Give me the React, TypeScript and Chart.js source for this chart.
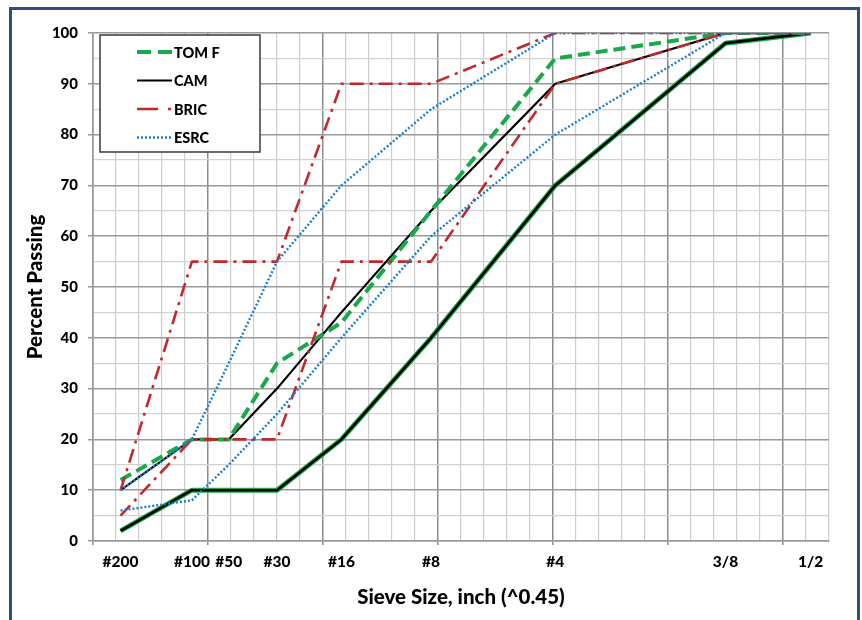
import React, { useEffect, useRef } from 'react';
import { Chart, registerables } from 'chart.js';

Chart.register(...registerables);

// ---- data ----
const sieveLabels = ['#200', '#100', '#50', '#30', '#16', '#8', '#4', '3/8', '1/2'];
const sieveX = [0.12, 0.43, 0.59, 0.8, 1.08, 1.47, 2.01, 2.75, 3.12]; // sieve size ^0.45
const tomF = [12, 20, 20, 35, 43, 65, 95, 100, 100];
const cam = [10, 20, 20, 30, 45, 65, 90, 100, 100];
const lowerLimit = [2, 10, 10, 10, 20, 40, 70, 98, 100];
const bricUpper = [10, 55, 55, 55, 90, 90, 100, 100, 100];
const bricLower = [5, 20, 20, 20, 55, 55, 90, 100, 100];
const esrcUpper = [10, 20, 35, 55, 70, 85, 100, 100, 100];
const esrcLower = [6, 8, 15, 25, 40, 60, 80, 100, 100];

const X_MIN = 0;
const X_MAX = 3.2;
const X_GRID_STEP = 0.1;
const Y_MIN = 0;
const Y_MAX = 100;

const GREEN = '#19a84a';
const BLACK = '#000000';
const RED = '#c0282d';
const BLUE = '#1a7fd0';
const FONT = "Lato, 'Open Sans', sans-serif";
const WEIGHT = '900';

const pts = (ys: number[]) => ys.map((y, i) => ({ x: sieveX[i], y }));

const legendItems = [
  { label: 'TOM F', color: GREEN, dash: [14, 7], width: 4 },
  { label: 'CAM', color: BLACK, dash: [], width: 2 },
  { label: 'BRIC', color: RED, dash: [21, 10, 3, 10], width: 2.5 },
  { label: 'ESRC', color: BLUE, dash: [2, 2], width: 2.5 },
];

const boxLegend = {
  id: 'boxLegend',
  afterDatasetsDraw(chart: any) {
    const { ctx, chartArea } = chart;
    const x0 = chartArea.left + 7;
    const y0 = chartArea.top + 2;
    const w = 160;
    const h = 117;
    ctx.save();
    ctx.fillStyle = '#ffffff';
    ctx.fillRect(x0, y0, w, h);
    ctx.strokeStyle = '#3a3a3a';
    ctx.lineWidth = 1.5;
    ctx.strokeRect(x0, y0, w, h);
    legendItems.forEach((it, i) => {
      const y = y0 + 17 + i * 28.5;
      ctx.beginPath();
      ctx.setLineDash(it.dash);
      ctx.strokeStyle = it.color;
      ctx.lineWidth = it.width;
      ctx.moveTo(x0 + 37, y);
      ctx.lineTo(x0 + 72, y);
      ctx.stroke();
      ctx.setLineDash([]);
      ctx.fillStyle = '#000';
      ctx.font = `${WEIGHT} 14.5px ${FONT}`;
      ctx.textBaseline = 'middle';
      ctx.textAlign = 'left';
      ctx.fillText(it.label, x0 + 74, y + 1);
    });
    ctx.restore();
  },
};

export default function App() {
  const ref = useRef<HTMLCanvasElement | null>(null);

  useEffect(() => {
    document.body.style.margin = '0';
    if (!ref.current) return;
    const line = (label: string, data: number[], color: string, width: number, dash: number[], order: number) => ({
      label,
      data: pts(data),
      borderColor: color,
      backgroundColor: color,
      borderWidth: width,
      borderDash: dash,
      pointRadius: 0,
      tension: 0,
      fill: false,
      order,
      borderJoinStyle: 'round' as const,
    });

    const chart = new Chart(ref.current, {
      type: 'line',
      data: {
        datasets: [
          line('ESRC upper', esrcUpper, BLUE, 2.4, [2, 2], 1),
          line('ESRC lower', esrcLower, BLUE, 2.4, [2, 2], 1),
          line('BRIC upper', bricUpper, RED, 2.6, [14, 6, 3, 6], 2),
          line('BRIC lower', bricLower, RED, 2.6, [14, 6, 3, 6], 2),
          line('TOM F upper', tomF, GREEN, 4, [12, 6], 3),
          line('CAM upper', cam, BLACK, 2.2, [], 4),
          line('CAM lower', lowerLimit, BLACK, 2.6, [], 5),
          line('TOM F lower', lowerLimit, GREEN, 5, [], 6),
        ],
      },
      options: {
        animation: false,
        responsive: false,
        layout: { padding: { left: 0, top: 33, right: 33, bottom: 0 } },
        plugins: {
          legend: { display: false },
          tooltip: { enabled: false },
        },
        scales: {
          x: {
            type: 'linear',
            min: X_MIN,
            max: X_MAX,
            afterBuildTicks: (scale: any) => {
              const ticks: any[] = [];
              const n = Math.round((X_MAX - X_MIN) / X_GRID_STEP);
              for (let i = 0; i <= n; i++) {
                ticks.push({ value: +(X_MIN + i * X_GRID_STEP).toFixed(4), kind: i % 5 === 0 ? 'major' : 'minor', lbl: '' });
              }
              sieveX.forEach((v, i) => {
                const hit = ticks.find((t) => t.kind !== 'sieve' && Math.abs(t.value - v) < 1e-6);
                if (hit) hit.lbl = sieveLabels[i];
                else ticks.push({ value: v, kind: 'sieve', lbl: sieveLabels[i] });
              });
              ticks.sort((a, b) => a.value - b.value);
              scale.ticks = ticks;
            },
            afterFit: (scale: any) => {
              scale.height = 79;
            },
            ticks: {
              autoSkip: false,
              maxRotation: 0,
              minRotation: 0,
              padding: 8,
              color: '#000',
              font: { family: FONT, size: 15.5, weight: WEIGHT },
              callback: (_v: any, i: number, ticks: any[]) => ticks[i].lbl,
            },
            grid: {
              color: (c: any) => {
                const k = c.tick && c.tick.kind;
                if (k === 'sieve') return 'rgba(0,0,0,0)';
                return k === 'major' ? '#8c8c8c' : '#cdcdcd';
              },
              lineWidth: (c: any) => (c.tick && c.tick.kind === 'major' ? 1.5 : 1.2),
              tickColor: (c: any) => (c.tick && c.tick.kind === 'major' ? '#8c8c8c' : 'rgba(0,0,0,0)'),
              tickLength: 4,
            },
            border: { display: true, color: '#9a9a9a', width: 1.5 },
            title: {
              display: true,
              text: 'Sieve Size, inch (^0.45)',
              color: '#000',
              font: { family: FONT, size: 20.5, weight: WEIGHT },
              padding: { top: 0, bottom: 10 },
            },
          },
          y: {
            type: 'linear',
            min: Y_MIN,
            max: Y_MAX,
            afterFit: (scale: any) => {
              scale.width = 93;
            },
            ticks: {
              stepSize: 5,
              padding: 10,
              color: '#000',
              font: { family: FONT, size: 15, weight: WEIGHT },
              callback: (v: any) => (Number(v) % 10 === 0 ? String(v) : ''),
            },
            grid: {
              color: (c: any) => (c.tick && c.tick.value % 10 === 0 ? '#9a9a9a' : '#d2d2d2'),
              lineWidth: (c: any) => (c.tick && c.tick.value % 10 === 0 ? 1.5 : 1.2),
              tickColor: (c: any) => (c.tick && c.tick.value % 10 === 0 ? '#9a9a9a' : 'rgba(0,0,0,0)'),
              tickLength: 5,
            },
            border: { display: true, color: '#9a9a9a', width: 1.5 },
            title: {
              display: true,
              text: 'Percent Passing',
              color: '#000',
              font: { family: FONT, size: 20.5, weight: WEIGHT },
              padding: { top: 23, bottom: 0 },
            },
          },
        },
      },
      plugins: [boxLegend],
    });
    return () => chart.destroy();
  }, []);

  return (
    <div style={{ position: 'relative', width: 862, height: 620, overflow: 'hidden', background: '#fff' }}>
      <canvas ref={ref} width={862} height={620} style={{ display: 'block' }} />
      <div
        style={{
          position: 'absolute',
          left: 9,
          top: 7,
          width: 845,
          height: 700,
          border: '3px solid #2d4f86',
          pointerEvents: 'none',
        }}
      />
    </div>
  );
}
